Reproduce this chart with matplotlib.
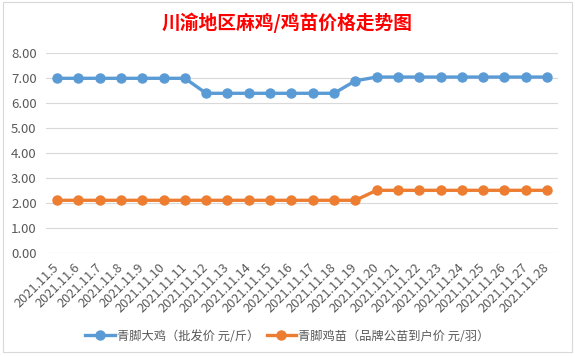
import matplotlib
matplotlib.use("Agg")
import matplotlib.pyplot as plt
from matplotlib.patches import Rectangle

plt.rcParams['font.family'] = ['Noto Sans CJK SC', 'DejaVu Sans']

# dates 2021.11.5 -> 2021.11.28
dates = ['2021.11.%d' % d for d in range(5, 29)]
daji = [7.0, 7.0, 7.0, 7.0, 7.0, 7.0, 7.0,
        6.4, 6.4, 6.4, 6.4, 6.4, 6.4, 6.4,
        6.9,
        7.05, 7.05, 7.05, 7.05, 7.05, 7.05, 7.05, 7.05, 7.05]
jimiao = [2.12] * 15 + [2.52] * 9
name_a = '青脚大鸡（批发价 元/斤）'
name_b = '青脚鸡苗（品牌公苗到户价 元/羽）'
title = '川渝地区麻鸡/鸡苗价格走势图'

W, H = 575, 357
fig = plt.figure(figsize=(W / 100, H / 100), dpi=100)
fig.patch.set_facecolor('white')
fig.patches.append(Rectangle((3 / W, 5 / H), 569 / W, 350 / H, transform=fig.transFigure,
                             fill=False, edgecolor='#D9D9D9', linewidth=0.8))

ax = fig.add_axes([46.4 / W, 103.7 / H, 511.3 / W, 200 / H])
x = list(range(len(dates)))
ax.plot(x, daji, color='#5B9BD5', linewidth=2.4, marker='o', markersize=6.5, label=name_a, zorder=3)
ax.plot(x, jimiao, color='#ED7D31', linewidth=2.4, marker='o', markersize=6.5, label=name_b, zorder=3)

ax.set_xlim(-0.5, len(dates) - 0.5)
ax.set_ylim(0, 8)
ax.set_yticks([0, 1, 2, 3, 4, 5, 6, 7, 8])
ax.set_yticklabels(['%.2f' % v for v in range(9)])
ax.grid(axis='y', color='#D9D9D9', linewidth=0.8)
ax.set_axisbelow(True)
for s in ax.spines.values():
    s.set_visible(False)
ax.tick_params(axis='y', length=0, pad=7, labelsize=9.5, labelcolor='#595959')
ax.tick_params(axis='x', length=0, pad=9)
ax.set_xticks(x)
ax.set_xticklabels(dates, rotation=45, ha='right', va='center', rotation_mode='anchor',
                   fontsize=9.2, color='#595959')

fig.text(0.5, 1 - 23 / H, title, ha='center', va='center', fontsize=13.5,
         fontweight='bold', color='#FF0000')

fig.legend(loc='center', bbox_to_anchor=(0.5, 1 - 336 / H), ncol=2, frameon=False,
           fontsize=8.8, handlelength=2.4, columnspacing=0.6, handletextpad=0.2,
           labelcolor='#595959')

fig.savefig('out.png', dpi=100, facecolor='white')
